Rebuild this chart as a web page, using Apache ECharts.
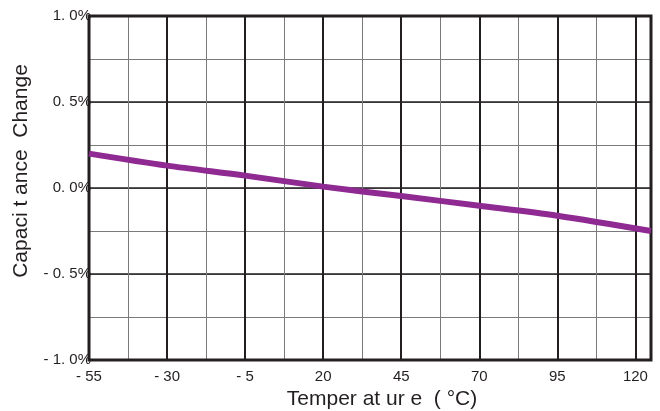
<!DOCTYPE html>
<html><head><meta charset="utf-8">
<script src="https://cdn.jsdelivr.net/npm/echarts@6/dist/echarts.min.js"></script>
<style>html,body{margin:0;padding:0;background:#fff}#c{width:660px;height:411px}</style>
</head><body><div id="c"></div>
<script>
var temps = [-55, -30, -5, 20, 45, 70, 95, 125];
var capChange = [0.20, 0.13, 0.072, 0.008, -0.047, -0.103, -0.161, -0.25];
var xTickValues = [-55, -30, -5, 20, 45, 70, 95, 120];
var xTickLabels = ['- 55', '- 30', '- 5', '20', '45', '70', '95', '120'];
var yTickValues = [1.0, 0.5, 0.0, -0.5, -1.0];
var yTickLabels = ['1. 0%', '0. 5%', '0. 0%', '- 0. 5%', '- 1. 0%'];
var xName = 'Temper at ur e  ( °C)';
var yName = 'Capaci t ance  Change';

function lookup(vals, labels, v) {
  for (var i = 0; i < vals.length; i++) if (Math.abs(vals[i] - v) < 1e-6) return labels[i];
  return '';
}
var font = 'Liberation Sans, Arial, sans-serif';
var chart = echarts.init(document.getElementById('c'), null, {renderer: 'canvas'});
chart.setOption({
  animation: false,
  backgroundColor: '#fff',
  grid: {left: 89, top: 16, right: 9, bottom: 51, outerBoundsMode: 'none', containLabel: false,
         show: true, borderColor: '#231f20', borderWidth: 3, backgroundColor: 'transparent', z: 5},
  xAxis: [
    {type: 'value', min: -55, max: 125, interval: 12.5, gridIndex: 0, position: 'top',
     axisLine: {show: false}, axisTick: {show: false}, axisLabel: {show: false},
     splitLine: {show: true, lineStyle: {color: '#7a7a7a', width: 1}}},
    {type: 'value', min: -55, max: 125, interval: 25, gridIndex: 0, position: 'bottom',
     axisLine: {show: false}, axisTick: {show: false},
     axisLabel: {margin: 9, fontSize: 15, color: '#231f20', fontFamily: font, showMaxLabel: false,
       formatter: function (v) { return lookup(xTickValues, xTickLabels, v); }},
     splitLine: {show: true, lineStyle: {color: '#231f20', width: 2}},
     name: xName, nameLocation: 'middle', nameGap: 27,
     nameTextStyle: {fontSize: 21, color: '#231f20', fontFamily: font, padding: [0, 0, 0, 24]}}
  ],
  yAxis: [
    {type: 'value', min: -1, max: 1, interval: 0.25, position: 'right',
     axisLine: {show: false}, axisTick: {show: false}, axisLabel: {show: false},
     splitLine: {show: true, lineStyle: {color: '#7a7a7a', width: 1}}},
    {type: 'value', min: -1, max: 1, interval: 0.5, position: 'left',
     axisLine: {show: false}, axisTick: {show: false},
     axisLabel: {margin: -2, fontSize: 15, color: '#231f20', fontFamily: font,
       formatter: function (v) { return lookup(yTickValues, yTickLabels, v); }},
     splitLine: {show: true, lineStyle: {color: '#231f20', width: 1.5}},
     name: yName, nameLocation: 'middle', nameGap: 57, nameRotate: 90,
     nameTextStyle: {fontSize: 21, color: '#231f20', fontFamily: font, padding: [0, 0, 0, 34]}}
  ],
  series: [{
    type: 'line', xAxisIndex: 1, yAxisIndex: 1, smooth: 0.3, symbol: 'none', z: 10,
    lineStyle: {color: '#8e2a91', width: 6},
    data: temps.map(function (t, i) { return [t, capChange[i]]; })
  }]
});
</script></body></html>
